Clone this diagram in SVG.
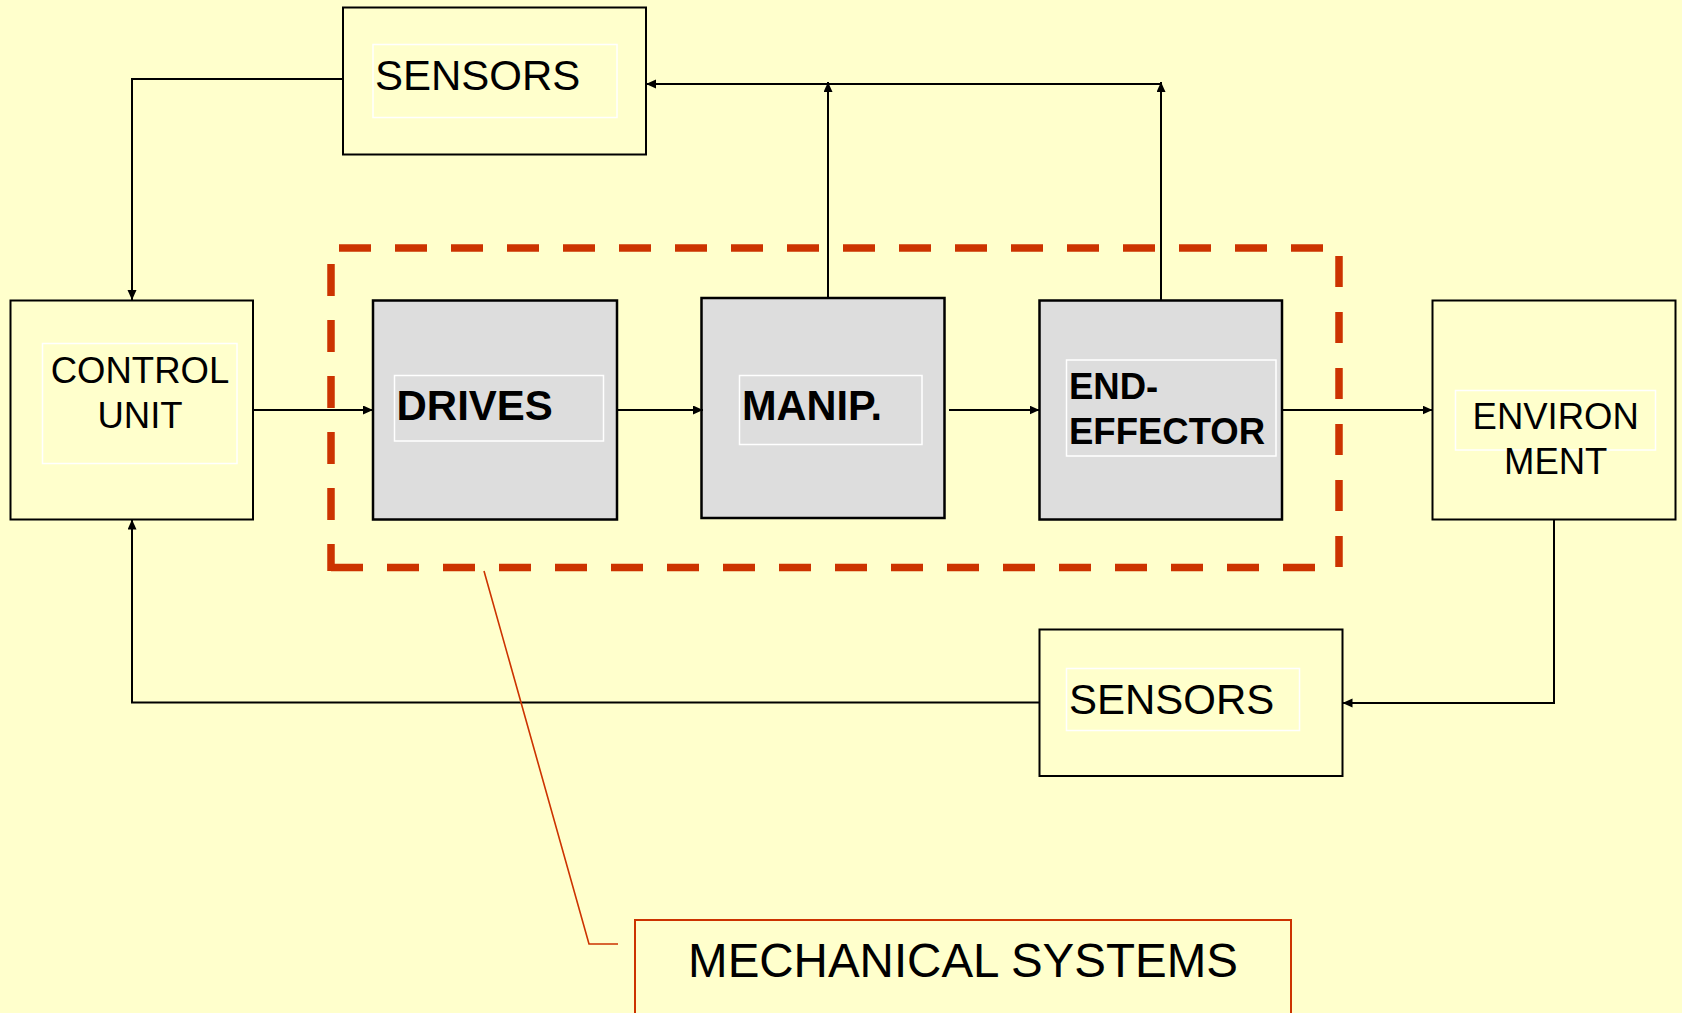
<svg xmlns="http://www.w3.org/2000/svg" width="1682" height="1013" viewBox="0 0 1682 1013">
  <defs>
    <marker id="arrow" markerUnits="userSpaceOnUse" markerWidth="11" markerHeight="10" refX="10" refY="4.5" orient="auto">
      <path d="M0,0 L10,4.5 L0,9 z" fill="#000"/>
    </marker>
    <style>
      .box { fill: #FFFFCC; stroke: #000; stroke-width: 2; }
      .gbox { fill: #DDDDDD; stroke: #000; stroke-width: 2.5; }
      .tbox { fill: none; stroke: #FFFFFF; stroke-width: 1.5; }
      .lbl { font-family: "Liberation Sans", Arial, sans-serif; fill: #000; }
      .bold { font-weight: bold; }
      .conn { fill: none; stroke: #000; stroke-width: 2; marker-end: url(#arrow); }
      .dash { fill: none; stroke: #CC3300; stroke-width: 7.5; stroke-linecap: butt; }
      .red { fill: none; stroke: #CC3300; stroke-width: 2; }
    </style>
  </defs>

  <rect x="0" y="0" width="1682" height="1013" fill="#FFFFCC"/>

  <!-- mechanical subsystem boundary (dashed) -->
  <g id="mech-boundary">
    <line class="dash" x1="339" y1="248" x2="1323" y2="248" stroke-dasharray="32 24"/>
    <line class="dash" x1="1339" y1="256" x2="1339" y2="567.5" stroke-dasharray="31 25"/>
    <line class="dash" x1="331" y1="567.5" x2="1315" y2="567.5" stroke-dasharray="32 24"/>
    <line class="dash" x1="331" y1="264" x2="331" y2="571" stroke-dasharray="32 24"/>
  </g>

  <g id="sensors-top">
    <rect class="box" x="343" y="7.5" width="303" height="147"/>
    <rect class="tbox" x="373" y="44.5" width="244" height="73"/>
    <text class="lbl" x="375" y="89.5" font-size="42">SENSORS</text>
  </g>

  <g id="control-unit">
    <rect class="box" x="10.5" y="300.5" width="242.5" height="219"/>
    <rect class="tbox" x="42.5" y="343.5" width="194.5" height="120"/>
    <text class="lbl" x="140" y="382.5" font-size="36.5" text-anchor="middle">CONTROL</text>
    <text class="lbl" x="140" y="427.5" font-size="36.5" text-anchor="middle">UNIT</text>
  </g>

  <g id="drives">
    <rect class="gbox" x="373" y="300.5" width="244" height="219"/>
    <rect class="tbox" x="394.5" y="375.5" width="209" height="65.5"/>
    <text class="lbl bold" x="396.5" y="420" font-size="42">DRIVES</text>
  </g>

  <g id="manipulator">
    <rect class="gbox" x="701.5" y="298" width="243" height="220"/>
    <rect class="tbox" x="739.5" y="375.5" width="182.5" height="69"/>
    <text class="lbl bold" x="742" y="420" font-size="42" textLength="140" lengthAdjust="spacingAndGlyphs">MANIP.</text>
  </g>

  <g id="end-effector">
    <rect class="gbox" x="1039.5" y="300.5" width="242.5" height="219"/>
    <rect class="tbox" x="1066.5" y="360" width="209.5" height="96"/>
    <text class="lbl bold" x="1069" y="398.5" font-size="36.5">END-</text>
    <text class="lbl bold" x="1069" y="443.5" font-size="36.5">EFFECTOR</text>
  </g>

  <g id="environment">
    <rect class="box" x="1432.5" y="300.5" width="243" height="219"/>
    <rect class="tbox" x="1455.5" y="390.5" width="200" height="59.5"/>
    <text class="lbl" x="1555.7" y="429" font-size="36.5" text-anchor="middle">ENVIRON</text>
    <text class="lbl" x="1555.7" y="474" font-size="36.5" text-anchor="middle">MENT</text>
  </g>

  <g id="sensors-bottom">
    <rect class="box" x="1039.5" y="629.5" width="303" height="146.5"/>
    <rect class="tbox" x="1066.5" y="668.5" width="233" height="62"/>
    <text class="lbl" x="1069" y="713.5" font-size="42">SENSORS</text>
  </g>

  <g id="mechanical-systems">
    <rect class="red" x="635" y="920" width="656" height="120"/>
    <text class="lbl" x="963" y="977" font-size="47.5" text-anchor="middle">MECHANICAL SYSTEMS</text>
  </g>

  <g id="connectors">
    <polyline class="conn" points="343,79 132,79 132,300"/>
    <line class="conn" x1="253" y1="410" x2="373" y2="410"/>
    <line class="conn" x1="617" y1="410" x2="703" y2="410"/>
    <line class="conn" x1="949" y1="410" x2="1039.5" y2="410"/>
    <line class="conn" x1="1282" y1="410" x2="1432.5" y2="410"/>
    <line class="conn" x1="828" y1="298" x2="828" y2="82"/>
    <line class="conn" x1="1161" y1="300.5" x2="1161" y2="82"/>
    <line class="conn" x1="1161" y1="84" x2="646" y2="84"/>
    <polyline class="conn" points="1554,519.5 1554,703 1342.5,703"/>
    <polyline class="conn" points="1039.5,702.5 132,702.5 132,519.5"/>
    <!-- leader from the dashed boundary to its caption -->
    <polyline class="red" style="stroke-width:1.6" points="484,571 589,944 618,944"/>
  </g>
</svg>
